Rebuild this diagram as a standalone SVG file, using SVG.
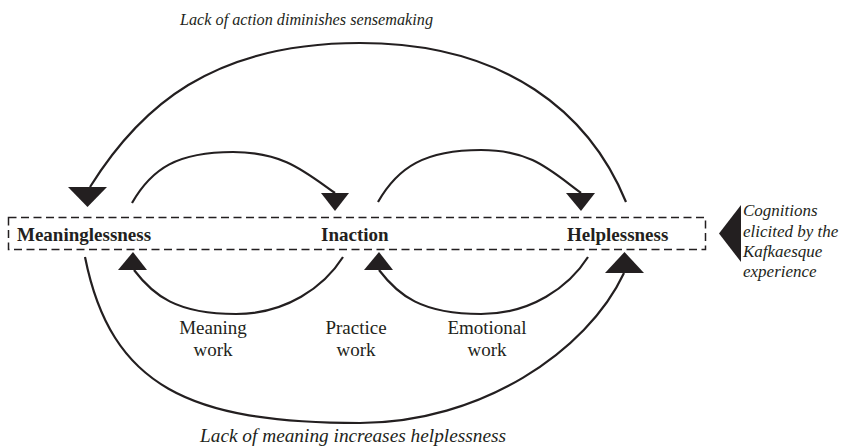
<svg xmlns="http://www.w3.org/2000/svg" width="842" height="447" viewBox="0 0 842 447">
<style>
  .arc{fill:none;stroke:#231f20;stroke-width:2.2}
  .head{fill:#231f20;stroke:none}
  .box{fill:none;stroke:#231f20;stroke-width:1.5;stroke-dasharray:8 4.5}
  .node{font-family:"Liberation Serif","Times New Roman",serif;font-weight:bold;font-size:19px;fill:#231f20}
  .lab{font-family:"Liberation Serif","Times New Roman",serif;font-size:19px;fill:#231f20;text-anchor:middle}
  .it{font-family:"Liberation Serif","Times New Roman",serif;font-style:italic;fill:#231f20}
</style>
<rect width="842" height="447" fill="#ffffff"/>
<g id="cognitions-box">
  <rect class="box" x="8.5" y="217.5" width="697" height="32"/>
</g>
<g id="connectors">
  <path class="arc" d="M626,202 C590,114 507,43 360,43 C212,43 140,107 90,187"/>
  <polygon class="head" points="68,187 107,187 87.5,207"/>
  <path class="arc" d="M85,257 C111,387 190,423 360,423 C480,423 587,352 624,273"/>
  <polygon class="head" points="605,273 644,273 624.5,252"/>
  <path class="arc" d="M132,203 C152,168 178,152 233,152 C283,152 304,171 335,193"/>
  <polygon class="head" points="321,193 349,193 335,211"/>
  <path class="arc" d="M378,202 C398,167 425,150 481,150 C531,150 550,170 581,193"/>
  <polygon class="head" points="566,193 595,193 581,211"/>
  <path class="arc" d="M343,257 C324,287 286,314 236,314 C176,314 153,295 134,270"/>
  <polygon class="head" points="118,270 147,270 133,252"/>
  <path class="arc" d="M588,257 C569,287 531,314 481,314 C421,314 398,295 379,270"/>
  <polygon class="head" points="364,270 393,270 379,252"/>
  <polygon class="head" points="741,205 741,262 719,233.5"/>
</g>
<g id="node-meaninglessness">
  <text class="node" x="17" y="241">Meaninglessness</text>
</g>
<g id="node-inaction">
  <text class="node" x="321" y="241">Inaction</text>
</g>
<g id="node-helplessness">
  <text class="node" x="567" y="241">Helplessness</text>
</g>
<g id="label-top">
  <text class="it" x="180" y="25" font-size="16.5" textLength="253" lengthAdjust="spacingAndGlyphs">Lack of action diminishes sensemaking</text>
</g>
<g id="label-bottom">
  <text class="it" x="200" y="441.5" font-size="18" textLength="306" lengthAdjust="spacingAndGlyphs">Lack of meaning increases helplessness</text>
</g>
<g id="label-meaning-work">
  <text class="lab" x="213" y="334">Meaning</text>
  <text class="lab" x="213" y="355.5">work</text>
</g>
<g id="label-practice-work">
  <text class="lab" x="356" y="334">Practice</text>
  <text class="lab" x="356" y="355.5">work</text>
</g>
<g id="label-emotional-work">
  <text class="lab" x="487" y="334">Emotional</text>
  <text class="lab" x="487" y="355.5">work</text>
</g>
<g id="label-cognitions">
  <text class="it" x="743" y="216" font-size="17">Cognitions</text>
  <text class="it" x="743" y="236.5" font-size="17">elicited by the</text>
  <text class="it" x="743" y="257" font-size="17">Kafkaesque</text>
  <text class="it" x="743" y="277" font-size="17">experience</text>
</g>
</svg>
